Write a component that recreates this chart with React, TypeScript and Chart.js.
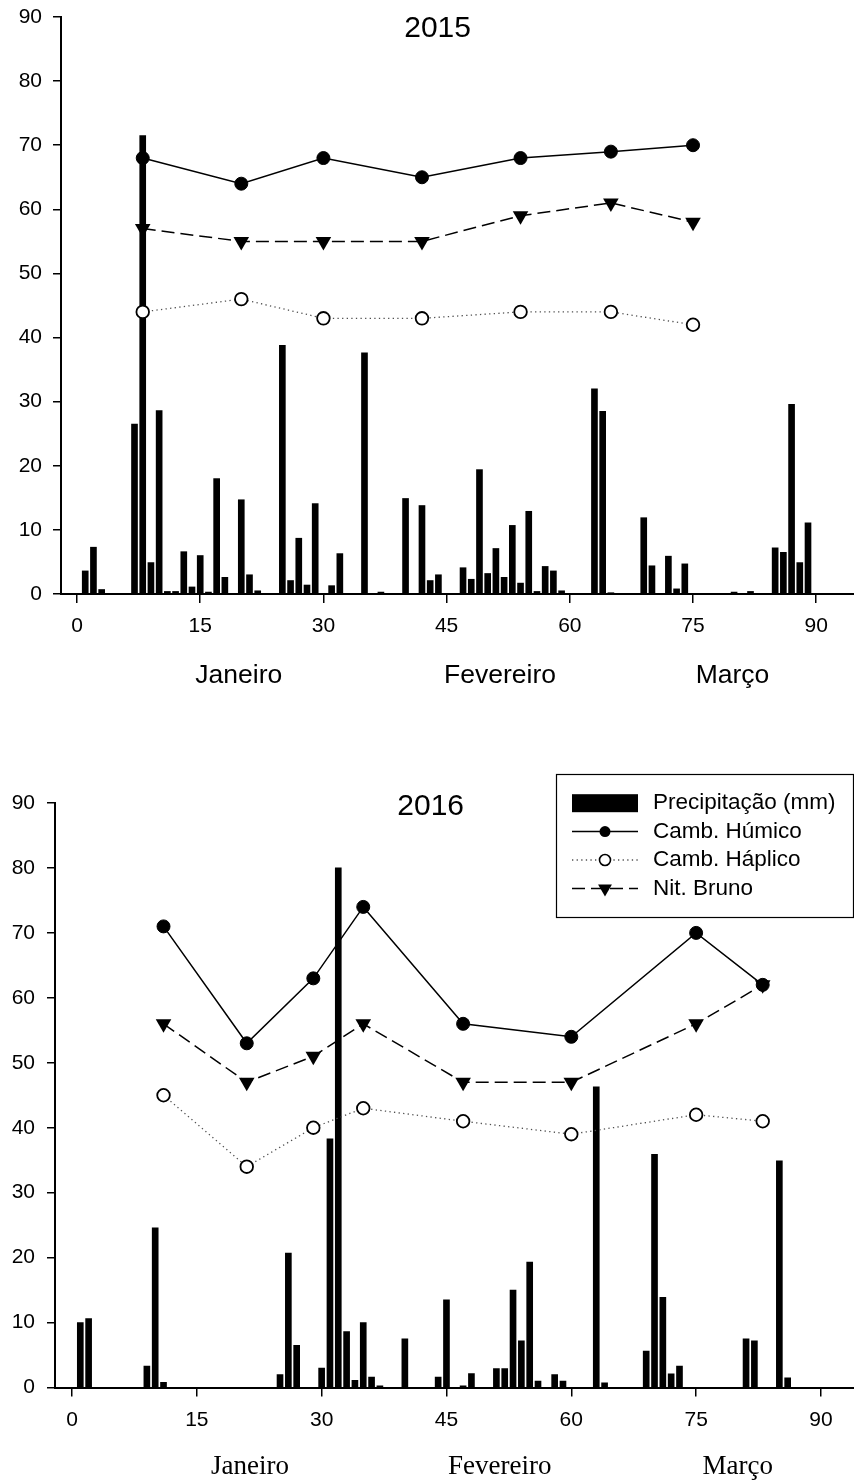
import React, { useEffect, useRef } from 'react';
import { Chart, registerables } from 'chart.js';

Chart.register(...registerables);

const BLACK = '#000';
const SANS = '"Liberation Sans", Arial, Helvetica, sans-serif';
const SERIF = '"Liberation Serif", "Times New Roman", Times, serif';

// Shared axis ticks and labels
const xTicks = [0, 15, 30, 45, 60, 75, 90];
const yTicks = [0, 10, 20, 30, 40, 50, 60, 70, 80, 90];
const monthNames = ['Janeiro', 'Fevereiro', 'Março'];
const seriesNames = ['Precipitação (mm)', 'Camb. Húmico', 'Camb. Háplico', 'Nit. Bruno'];

// 2015 — daily rainfall (mm)
const rainDays2015 = [
  1, 2, 3, 7, 8, 9, 10, 11, 12, 13, 14, 15, 16, 17, 18, 20, 21, 22, 25, 26, 27, 28, 29, 31, 32,
  35, 37, 40, 42, 43, 44, 47, 48, 49, 50, 51, 52, 53, 54, 55, 56, 57, 58, 59, 63, 64, 65, 69, 70,
  72, 73, 74, 80, 82, 85, 86, 87, 88, 89,
];
const rain2015 = [
  3.6, 7.3, 0.7, 26.5, 71.5, 4.9, 28.6, 0.4, 0.4, 6.6, 1.1, 6.0, 0.3, 18.0, 2.6, 14.7, 3.0, 0.5,
  38.8, 2.1, 8.7, 1.4, 14.1, 1.3, 6.3, 37.6, 0.3, 14.9, 13.8, 2.1, 3.0, 4.1, 2.3, 19.4, 3.2, 7.1,
  2.6, 10.7, 1.7, 12.9, 0.4, 4.3, 3.6, 0.5, 32.0, 28.5, 0.2, 11.9, 4.4, 5.9, 0.8, 4.7, 0.3, 0.4,
  7.2, 6.5, 29.6, 4.9, 11.1,
];
// 2015 — soil series
const sampleDays2015 = [8, 20, 30, 42, 54, 65, 75];
const humico2015 = [68, 64, 68, 65, 68, 69, 70];
const haplico2015 = [44, 46, 43, 43, 44, 44, 42];
const bruno2015 = [57, 55, 55, 55, 59, 61, 58];
const monthDays2015 = [19.7, 51.5, 79.8];

// 2016 — daily rainfall (mm)
const rainDays2016 = [
  1, 2, 9, 10, 11, 25, 26, 27, 30, 31, 32, 33, 34, 35, 36, 37, 40, 44, 45, 47, 48, 51, 52, 53, 54,
  55, 56, 58, 59, 63, 64, 69, 70, 71, 72, 73, 81, 82, 85, 86,
];
const rain2016 = [
  10.0, 10.6, 3.3, 24.6, 0.8, 2.0, 20.7, 6.5, 3.0, 38.3, 80.0, 8.6, 1.1, 10.0, 1.6, 0.25, 7.5, 1.6,
  13.5, 0.25, 2.15, 2.9, 2.9, 15.0, 7.2, 19.3, 1.0, 2.0, 1.0, 46.3, 0.7, 5.6, 35.9, 13.9, 2.1, 3.3,
  7.5, 7.2, 34.9, 1.5,
];
// 2016 — soil series
const sampleDays2016 = [11, 21, 29, 35, 47, 60, 75, 83];
const humico2016 = [71, 53, 63, 74, 56, 54, 70, 62];
const haplico2016 = [45, 34, 40, 43, 41, 39, 42, 41];
const bruno2016 = [56, 47, 51, 56, 47, 47, 56, 62];
const monthDays2016 = [21.4, 51.4, 80.0];

const pairs = (xs: number[], ys: number[]) => xs.map((x, i) => ({ x, y: ys[i] }));

type Marker = 'circle' | 'triangleDown';

function drawMarker(
  ctx: CanvasRenderingContext2D,
  kind: Marker,
  x: number,
  y: number,
  r: number,
  fill: string,
  stroke: string,
  lw: number
) {
  ctx.beginPath();
  if (kind === 'triangleDown') {
    const s = Math.sin(Math.PI / 3) * r;
    ctx.moveTo(x, y + r);
    ctx.lineTo(x - s, y - r / 2);
    ctx.lineTo(x + s, y - r / 2);
    ctx.closePath();
  } else {
    ctx.arc(x, y, r, 0, Math.PI * 2);
  }
  ctx.fillStyle = fill;
  ctx.fill();
  if (lw > 0) {
    ctx.setLineDash([]);
    ctx.lineWidth = lw;
    ctx.strokeStyle = stroke;
    ctx.stroke();
  }
}

// Series appearance
const humicoStyle = {
  borderColor: BLACK,
  borderWidth: 1.5,
  borderDash: [] as number[],
  pointStyle: 'circle',
  pointRadius: 6.5,
  pointBackgroundColor: BLACK,
  pointBorderColor: BLACK,
  pointBorderWidth: 1,
};
const haplicoStyle = {
  borderColor: '#505050',
  borderWidth: 1.3,
  borderDash: [1.3, 3.3],
  pointStyle: 'circle',
  pointRadius: 6.3,
  pointBackgroundColor: '#fff',
  pointBorderColor: BLACK,
  pointBorderWidth: 1.8,
};
const brunoStyle = {
  borderColor: BLACK,
  borderWidth: 1.5,
  borderDash: [13, 6],
  pointStyle: 'triangle',
  rotation: 180,
  pointRadius: 9,
  pointBackgroundColor: BLACK,
  pointBorderColor: BLACK,
  pointBorderWidth: 0,
};

// Draws the panel title, month names under the axis and (optionally) the legend box
const overlayPlugin = {
  id: 'overlay',
  afterDraw(chart: any, _args: any, opts: any) {
    const { ctx, chartArea } = chart;
    const x = chart.scales.x;
    const y = chart.scales.y;
    ctx.save();
    ctx.fillStyle = BLACK;
    ctx.textAlign = 'center';
    ctx.textBaseline = 'middle';

    ctx.font = `30px ${SANS}`;
    ctx.fillText(opts.title, x.getPixelForValue(opts.titleAt[0]), y.getPixelForValue(opts.titleAt[1]));

    ctx.font = opts.monthFont;
    opts.months.forEach((m: string, i: number) => {
      ctx.fillText(m, x.getPixelForValue(opts.monthAt[i]), chartArea.bottom + opts.monthOffset);
    });

    if (opts.legend) {
      const w = 297;
      const h = 143;
      const left = chartArea.right - w - 0.5;
      const top = chartArea.top - 28.5;
      ctx.setLineDash([]);
      ctx.fillStyle = '#fff';
      ctx.fillRect(left, top, w, h);
      ctx.lineWidth = 1.2;
      ctx.strokeStyle = BLACK;
      ctx.strokeRect(left, top, w, h);

      const sx0 = left + 15.5;
      const sx1 = left + 81.5;
      const sxc = (sx0 + sx1) / 2;
      const rowY = (i: number) => top + 28.7 + i * 28.4;

      // bar swatch
      ctx.fillStyle = BLACK;
      ctx.fillRect(sx0, rowY(0) - 9, sx1 - sx0, 18);

      const lineRows: [any, Marker, number][] = [
        [humicoStyle, 'circle', 5.5],
        [haplicoStyle, 'circle', 5.5],
        [brunoStyle, 'triangleDown', 8],
      ];
      lineRows.forEach(([st, kind, r], i) => {
        const yy = rowY(i + 1);
        ctx.beginPath();
        ctx.setLineDash(st.borderDash);
        ctx.lineWidth = st.borderWidth;
        ctx.strokeStyle = st.borderColor;
        ctx.moveTo(sx0, yy);
        ctx.lineTo(sx1, yy);
        ctx.stroke();
        drawMarker(ctx, kind, sxc, yy, r, st.pointBackgroundColor, st.pointBorderColor, kind === 'circle' && st.pointBackgroundColor === '#fff' ? 1.6 : 0);
      });

      ctx.setLineDash([]);
      ctx.fillStyle = BLACK;
      ctx.textAlign = 'left';
      ctx.font = `22.5px ${SANS}`;
      seriesNames.forEach((name, i) => ctx.fillText(name, left + 96.5, rowY(i)));
    }
    ctx.restore();
  },
};

type PanelSpec = {
  top: number;
  height: number;
  padTop: number;
  yAxisWidth: number;
  yLabelPad: number;
  xAxisHeight: number;
  xMin: number;
  xMax: number;
  rainDays: number[];
  rain: number[];
  sampleDays: number[];
  humico: number[];
  haplico: number[];
  bruno: number[];
  title: string;
  titleAt: [number, number];
  monthAt: number[];
  monthFont: string;
  monthOffset: number;
  legend: boolean;
};

function Panel({ spec }: { spec: PanelSpec }) {
  const ref = useRef<HTMLCanvasElement>(null);

  useEffect(() => {
    const canvas = ref.current;
    if (!canvas) return;
    const tickFont = { family: SANS, size: 21 };
    const gridOpts = (len: number) => ({
      display: true,
      offset: false,
      drawOnChartArea: false,
      drawTicks: true,
      tickLength: len,
      tickWidth: 1.5,
      tickColor: BLACK,
      lineWidth: 1.5,
      color: BLACK,
    });

    const chart = new Chart(canvas, {
      type: 'bar',
      data: {
        datasets: [
          {
            type: 'line',
            label: seriesNames[1],
            data: pairs(spec.sampleDays, spec.humico),
            tension: 0,
            order: 1,
            ...humicoStyle,
          } as any,
          {
            type: 'line',
            label: seriesNames[2],
            data: pairs(spec.sampleDays, spec.haplico),
            tension: 0,
            order: 2,
            ...haplicoStyle,
          } as any,
          {
            type: 'line',
            label: seriesNames[3],
            data: pairs(spec.sampleDays, spec.bruno),
            tension: 0,
            order: 3,
            ...brunoStyle,
          } as any,
          {
            type: 'bar',
            label: seriesNames[0],
            data: pairs(spec.rainDays, spec.rain),
            backgroundColor: BLACK,
            borderWidth: 0,
            barThickness: 6,
            order: 10,
          } as any,
        ],
      },
      options: {
        responsive: false,
        maintainAspectRatio: false,
        animation: false,
        devicePixelRatio: 1,
        events: [],
        layout: { autoPadding: false, padding: { top: spec.padTop, left: 0, right: 0, bottom: 0 } },
        plugins: {
          legend: { display: false },
          tooltip: { enabled: false },
          overlay: {
            title: spec.title,
            titleAt: spec.titleAt,
            months: monthNames,
            monthAt: spec.monthAt,
            monthFont: spec.monthFont,
            monthOffset: spec.monthOffset,
            legend: spec.legend,
          },
        } as any,
        scales: {
          x: {
            type: 'linear',
            offset: false,
            min: spec.xMin,
            max: spec.xMax,
            afterBuildTicks: (axis: any) => {
              axis.ticks = xTicks.map((v) => ({ value: v }));
            },
            afterFit: (axis: any) => {
              axis.height = spec.xAxisHeight;
              axis.paddingLeft = 0;
              axis.paddingRight = 0;
            },
            grid: gridOpts(9),
            border: { display: true, color: BLACK, width: 2 },
            ticks: {
              color: BLACK,
              font: tickFont,
              padding: 11,
              maxRotation: 0,
              autoSkip: false,
            },
          },
          y: {
            type: 'linear',
            min: 0,
            max: 90,
            afterBuildTicks: (axis: any) => {
              axis.ticks = yTicks.map((v) => ({ value: v }));
            },
            afterFit: (axis: any) => {
              axis.width = spec.yAxisWidth;
              axis.paddingTop = 0;
              axis.paddingBottom = 0;
            },
            grid: gridOpts(8),
            border: { display: true, color: BLACK, width: 2 },
            ticks: { color: BLACK, font: tickFont, padding: spec.yLabelPad },
          },
        },
      } as any,
      plugins: [overlayPlugin as any],
    });
    return () => chart.destroy();
  }, [spec]);

  return (
    <canvas
      ref={ref}
      width={854}
      height={spec.height}
      style={{ position: 'absolute', left: 0, top: spec.top, width: 854, height: spec.height, display: 'block' }}
    />
  );
}

const panel2015: PanelSpec = {
  top: 0,
  height: 730,
  padTop: 17,
  yAxisWidth: 61,
  yLabelPad: 11,
  xAxisHeight: 136,
  xMin: -1.95,
  xMax: 94.6,
  rainDays: rainDays2015,
  rain: rain2015,
  sampleDays: sampleDays2015,
  humico: humico2015,
  haplico: haplico2015,
  bruno: bruno2015,
  title: '2015',
  titleAt: [43.9, 88.2],
  monthAt: monthDays2015,
  monthFont: `26.5px ${SANS}`,
  monthOffset: 82,
  legend: false,
};

const panel2016: PanelSpec = {
  top: 730,
  height: 754,
  padTop: 73,
  yAxisWidth: 55,
  yLabelPad: 12,
  xAxisHeight: 96.5,
  xMin: -2.04,
  xMax: 93.97,
  rainDays: rainDays2016,
  rain: rain2016,
  sampleDays: sampleDays2016,
  humico: humico2016,
  haplico: haplico2016,
  bruno: bruno2016,
  title: '2016',
  titleAt: [43.1, 89.4],
  monthAt: monthDays2016,
  monthFont: `27px ${SERIF}`,
  monthOffset: 79.5,
  legend: true,
};

export default function App() {
  return (
    <div style={{ position: 'absolute', left: 0, top: 0, width: 854, height: 1484, background: '#fff', overflow: 'hidden' }}>
      <Panel spec={panel2015} />
      <Panel spec={panel2016} />
    </div>
  );
}
